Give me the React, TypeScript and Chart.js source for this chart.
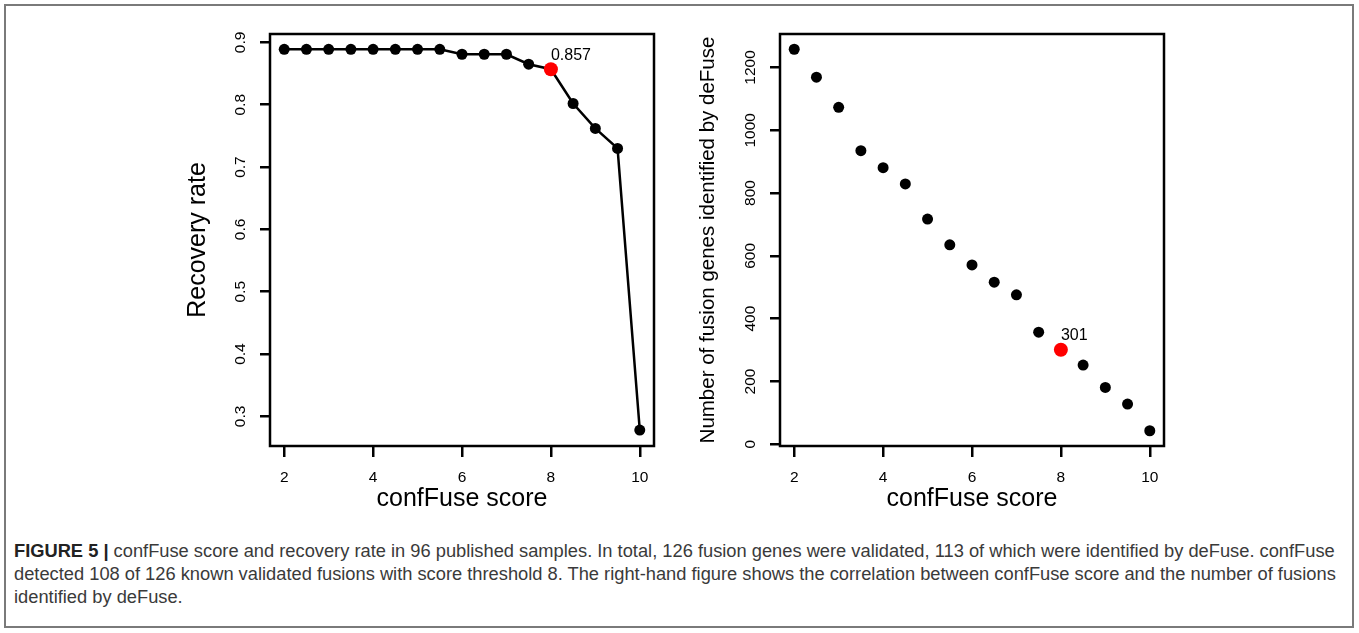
import React, { useEffect, useRef } from "react";
import { Chart, registerables } from "chart.js";

Chart.register(...registerables);

// ---------- data ----------
const scores = [2, 2.5, 3, 3.5, 4, 4.5, 5, 5.5, 6, 6.5, 7, 7.5, 8, 8.5, 9, 9.5, 10];
const recoveryRate = [
  0.889, 0.889, 0.889, 0.889, 0.889, 0.889, 0.889, 0.889,
  0.881, 0.881, 0.881, 0.865, 0.857, 0.802, 0.762, 0.730, 0.278,
];
const fusionCounts = [
  1258, 1169, 1073, 935, 881, 829, 717, 635, 571, 516, 476, 357, 301, 252, 181, 128, 43,
];
const xTicks = [2, 4, 6, 8, 10];
const leftYTicks = [0.3, 0.4, 0.5, 0.6, 0.7, 0.8, 0.9];
const rightYTicks = [0, 200, 400, 600, 800, 1000, 1200];
const highlightScore = 8;
const leftAnnotation = "0.857";
const rightAnnotation = "301";
const xTitle = "confFuse score";
const leftYTitle = "Recovery rate";
const rightYTitle = "Number of fusion genes identified by deFuse";

const FONT = '"Liberation Sans", Arial, Helvetica, sans-serif';

type PanelCfg = {
  yTicks: number[];
  yFmt: (v: number) => string;
  yTitle: string;
  yTitleSize: number;
  annText: string;
};

function rPlugin(cfg: PanelCfg) {
  return {
    id: "rbase",
    afterDraw(chart: any) {
      const { ctx, chartArea: a } = chart;
      const x = chart.scales.x;
      const y = chart.scales.y;
      ctx.save();
      // box
      ctx.strokeStyle = "#000";
      ctx.lineWidth = 2.5;
      ctx.strokeRect(a.left, a.top, a.right - a.left, a.bottom - a.top);
      ctx.fillStyle = "#000";
      // x tick labels
      ctx.font = `15.5px ${FONT}`;
      ctx.textAlign = "center";
      ctx.textBaseline = "middle";
      x.ticks.forEach((t: any) => {
        ctx.fillText(String(t.value), x.getPixelForValue(t.value), a.bottom + 31.5);
      });
      // y tick labels (rotated, R style)
      y.ticks.forEach((t: any) => {
        const py = y.getPixelForValue(t.value);
        ctx.save();
        ctx.translate(a.left - 29, py);
        ctx.rotate(-Math.PI / 2);
        ctx.fillText(cfg.yFmt(t.value), 0, 0);
        ctx.restore();
      });
      // x title
      ctx.font = `25px ${FONT}`;
      ctx.fillText(xTitle, (a.left + a.right) / 2, a.bottom + 53);
      // y title
      ctx.save();
      ctx.font = `${cfg.yTitleSize}px ${FONT}`;
      ctx.translate(a.left - 72, (a.top + a.bottom) / 2);
      ctx.rotate(-Math.PI / 2);
      ctx.fillText(cfg.yTitle, 0, 0);
      ctx.restore();
      // annotation near highlighted point
      const idx = scores.indexOf(highlightScore);
      const pt = chart.getDatasetMeta(0).data[idx];
      if (pt) {
        ctx.font = `16px ${FONT}`;
        ctx.textAlign = "left";
        ctx.fillText(cfg.annText, pt.x, pt.y - 14);
      }
      ctx.restore();
    },
  };
}

function axisOpts(min: number, max: number, ticks: number[], isX: boolean) {
  return {
    type: "linear" as const,
    min,
    max,
    afterBuildTicks: (s: any) => {
      s.ticks = ticks.map((v) => ({ value: v }));
    },
    afterFit: (s: any) => {
      if (isX) s.height = 20;
      else s.width = 20;
    },
    ticks: { display: false },
    grid: {
      display: true,
      drawOnChartArea: false,
      drawTicks: true,
      tickLength: isX ? 11 : 10,
      color: "#000",
      lineWidth: 2.5,
    },
    border: { display: false },
  };
}

function Panel(props: {
  left: number;
  width: number;
  padding: { left: number; right: number; top: number; bottom: number };
  values: number[];
  showLine: boolean;
  yMin: number;
  yMax: number;
  cfg: PanelCfg;
}) {
  const ref = useRef<HTMLCanvasElement | null>(null);
  useEffect(() => {
    if (!ref.current) return;
    const colors = scores.map((s) => (s === highlightScore ? "#ff0000" : "#000000"));
    const radii = scores.map((s) => (s === highlightScore ? 7 : 5.5));
    const chart = new Chart(ref.current, {
      type: "line",
      data: {
        datasets: [
          {
            data: scores.map((s, i) => ({ x: s, y: props.values[i] })),
            showLine: props.showLine,
            borderColor: "#000",
            borderWidth: 2.5,
            tension: 0,
            pointBackgroundColor: colors,
            pointBorderColor: colors,
            pointBorderWidth: 0,
            pointRadius: radii,
            fill: false,
          },
        ],
      },
      options: {
        animation: false,
        responsive: false,
        maintainAspectRatio: false,
        layout: { padding: props.padding },
        plugins: { legend: { display: false }, tooltip: { enabled: false } },
        scales: {
          x: axisOpts(1.68, 10.32, xTicks, true),
          y: axisOpts(props.yMin, props.yMax, props.cfg.yTicks, false),
        },
      },
      plugins: [rPlugin(props.cfg)],
    } as any);
    return () => chart.destroy();
  }, []);
  return (
    <canvas
      ref={ref}
      width={props.width}
      height={520}
      style={{ position: "absolute", left: props.left, top: 0, width: props.width, height: 520 }}
    />
  );
}

export default function App() {
  return (
    <div
      style={{
        position: "absolute",
        left: 0,
        top: 0,
        width: 1359,
        height: 633,
        background: "#fff",
        overflow: "hidden",
      }}
    >
      <div
        style={{
          position: "absolute",
          left: 4,
          top: 4,
          width: 1346,
          height: 620,
          border: "2px solid #7a7a7a",
        }}
      />
      <Panel
        left={0}
        width={680}
        padding={{ left: 250, right: 26, top: 34, bottom: 54 }}
        values={recoveryRate}
        showLine={true}
        yMin={0.2525}
        yMax={0.9135}
        cfg={{
          yTicks: leftYTicks,
          yFmt: (v) => v.toFixed(1),
          yTitle: leftYTitle,
          yTitleSize: 25,
          annText: leftAnnotation,
        }}
      />
      <Panel
        left={680}
        width={679}
        padding={{ left: 80, right: 195, top: 34, bottom: 54 }}
        values={fusionCounts}
        showLine={false}
        yMin={-5.6}
        yMax={1306.6}
        cfg={{
          yTicks: rightYTicks,
          yFmt: (v) => String(v),
          yTitle: rightYTitle,
          yTitleSize: 20.5,
          annText: rightAnnotation,
        }}
      />
      <div
        style={{
          position: "absolute",
          left: 14,
          top: 539,
          fontFamily: FONT,
          fontSize: 18.3,
          lineHeight: "23px",
          color: "#3a3a3a",
          whiteSpace: "nowrap",
        }}
      >
        <b style={{ color: "#222" }}>FIGURE 5 |</b> confFuse score and recovery rate in 96 published
        samples. In total, 126 fusion genes were validated, 113 of which were identified by deFuse.
        confFuse
        <br />
        detected 108 of 126 known validated fusions with score threshold 8. The right-hand figure
        shows the correlation between confFuse score and the number of fusions
        <br />
        identified by deFuse.
      </div>
    </div>
  );
}
